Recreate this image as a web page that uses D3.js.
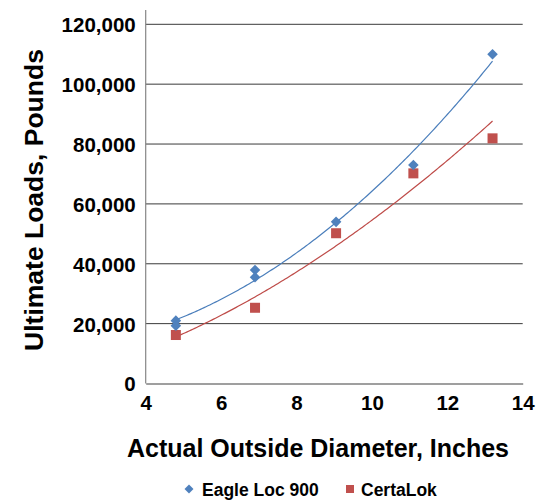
<!DOCTYPE html>
<html lang="en">
<head>
	<meta charset="utf-8" />
	<title>Ultimate loads vs outside diameter</title>
	<style>
		* {margin: 0; padding: 0;}
		body {background: #fff;}
		text {font-family: "Liberation Sans", Arial, Helvetica, sans-serif; font-weight: bold;}
	</style>
</head>
<body>
	<div id="viz"></div>
	<script src="https://cdn.jsdelivr.net/npm/d3@7"></script>
	<script type="text/javascript">

	// diameters (inches) and ultimate loads (pounds)
	var eagleX = [4.8, 4.8, 6.9, 6.9, 9.05, 11.1, 13.2];
	var eagleY = [21000, 19300, 37900, 35500, 54000, 73000, 110000];
	var certaX = [4.8, 6.9, 9.05, 11.1, 13.2];
	var certaY = [16200, 25300, 50200, 70200, 81900];

	var xTicks = [4, 6, 8, 10, 12, 14];
	var yTicks = [0, 20000, 40000, 60000, 80000, 100000, 120000];
	var seriesNames = ["Eagle Loc 900", "CertaLok"];

	var w = 555, h = 500;
	var blue = "#4f81bd", red = "#c0504d";

	var svg = d3.select("#viz").append("svg").attr("width", w).attr("height", h);

	var x = d3.scaleLinear().domain([4, 14]).range([145.7, 522.7]);
	var y = d3.scaleLinear().domain([0, 120000]).range([383.5, 24.3]);

	// gridlines
	svg.selectAll("line.grid")
		.data(yTicks.slice(1))
		.enter().append("line")
		.attr("class", "grid")
		.attr("x1", x(4)).attr("x2", x(14))
		.attr("y1", function(d){return y(d)}).attr("y2", function(d){return y(d)})
		.style("stroke", "#3a3a3a").style("stroke-width", 1);

	// y axis (labels only) + plain line
	var yAxis = svg.append("g").attr("transform", "translate(" + x(4) + ",0)")
		.call(d3.axisLeft(y).tickValues(yTicks).tickSize(0).tickPadding(10)
			.tickFormat(d3.format(",")));
	yAxis.select(".domain").remove();
	yAxis.selectAll("text").style("font-size", "20.5px").style("fill", "#000")
		.attr("dy", "0.36em");
	svg.append("line").attr("x1", x(4)).attr("x2", x(4)).attr("y1", 10).attr("y2", y(0))
		.style("stroke", "#868686").style("stroke-width", 1.2);

	// x axis
	var xAxis = svg.append("g").attr("transform", "translate(0," + y(0) + ")")
		.call(d3.axisBottom(x).tickValues(xTicks).tickSize(0).tickPadding(12));
	xAxis.select(".domain").style("stroke", "#404040").style("stroke-width", 1.2);
	xAxis.selectAll("text").style("font-size", "20.5px").style("fill", "#000");

	// trendlines: 2nd order polynomial for Eagle Loc, power for CertaLok
	function polyFit(xs, ys){
		var n = xs.length, s = [0,0,0,0,0], t = [0,0,0];
		for (var i = 0; i < n; i++){
			var p = 1;
			for (var k = 0; k < 5; k++){ s[k] += p; if (k < 3) t[k] += p * ys[i]; p *= xs[i]; }
		}
		var m = [[s[0], s[1], s[2], t[0]], [s[1], s[2], s[3], t[1]], [s[2], s[3], s[4], t[2]]];
		for (var c = 0; c < 3; c++){
			for (var r = c + 1; r < 3; r++){
				var f = m[r][c] / m[c][c];
				for (var j = c; j < 4; j++) m[r][j] -= f * m[c][j];
			}
		}
		var co = [0,0,0];
		for (var r2 = 2; r2 >= 0; r2--){
			var v = m[r2][3];
			for (var j2 = r2 + 1; j2 < 3; j2++) v -= m[r2][j2] * co[j2];
			co[r2] = v / m[r2][r2];
		}
		return function(v){return co[0] + co[1] * v + co[2] * v * v;};
	}
	function powerFit(xs, ys){
		var lx = xs.map(Math.log), ly = ys.map(Math.log);
		var mx = d3.mean(lx), my = d3.mean(ly), sxy = 0, sxx = 0;
		for (var i = 0; i < lx.length; i++){ sxy += (lx[i]-mx)*(ly[i]-my); sxx += (lx[i]-mx)*(lx[i]-mx); }
		var b = sxy / sxx, a = Math.exp(my - b * mx);
		return function(v){return a * Math.pow(v, b);};
	}

	var eagleFit = polyFit(eagleX, eagleY);
	var certaFit = powerFit(certaX, certaY);
	var xs = d3.range(4.8, 13.2001, 0.05);
	var line = d3.line().x(function(d){return x(d[0])}).y(function(d){return y(d[1])});

	svg.append("path").datum(xs.map(function(v){return [v, eagleFit(v)];}))
		.attr("d", line).style("fill", "none").style("stroke", "#4a7ebb").style("stroke-width", 1.2);
	svg.append("path").datum(xs.map(function(v){return [v, certaFit(v)];}))
		.attr("d", line).style("fill", "none").style("stroke", "#be4b48").style("stroke-width", 1.2);

	// markers
	svg.selectAll("rect.certa")
		.data(certaX)
		.enter().append("rect")
		.attr("class", "certa")
		.attr("x", function(d){return x(d) - 5})
		.attr("y", function(d, i){return y(certaY[i]) - 5})
		.attr("width", 10).attr("height", 10)
		.style("fill", red);

	// diamond = square turned 45 degrees
	var diamond = d3.symbol().type(d3.symbolSquare).size(56);
	svg.selectAll("path.eagle")
		.data(eagleX)
		.enter().append("path")
		.attr("class", "eagle")
		.attr("d", diamond)
		.attr("transform", function(d, i){return "translate(" + x(d) + "," + y(eagleY[i]) + ") rotate(45)"})
		.style("fill", blue);

	// axis titles
	svg.append("text")
		.attr("text-anchor", "middle")
		.attr("transform", "translate(43,200) rotate(-90)")
		.style("font-size", "26.5px")
		.text("Ultimate Loads, Pounds");

	svg.append("text")
		.attr("text-anchor", "middle")
		.attr("x", 318).attr("y", 457)
		.style("font-size", "25px")
		.text("Actual Outside Diameter, Inches");

	// legend
	var legend = svg.append("g");
	legend.append("path").attr("d", d3.symbol().type(d3.symbolSquare).size(40))
		.attr("transform", "translate(189,489) rotate(45)").style("fill", blue);
	legend.append("text").attr("x", 202).attr("y", 495.5).style("font-size", "17.5px")
		.text(seriesNames[0]);
	legend.append("rect").attr("x", 346).attr("y", 485).attr("width", 8).attr("height", 8)
		.style("fill", red);
	legend.append("text").attr("x", 361).attr("y", 495.5).style("font-size", "17.5px")
		.text(seriesNames[1]);
    </script>
</body>
</html>
